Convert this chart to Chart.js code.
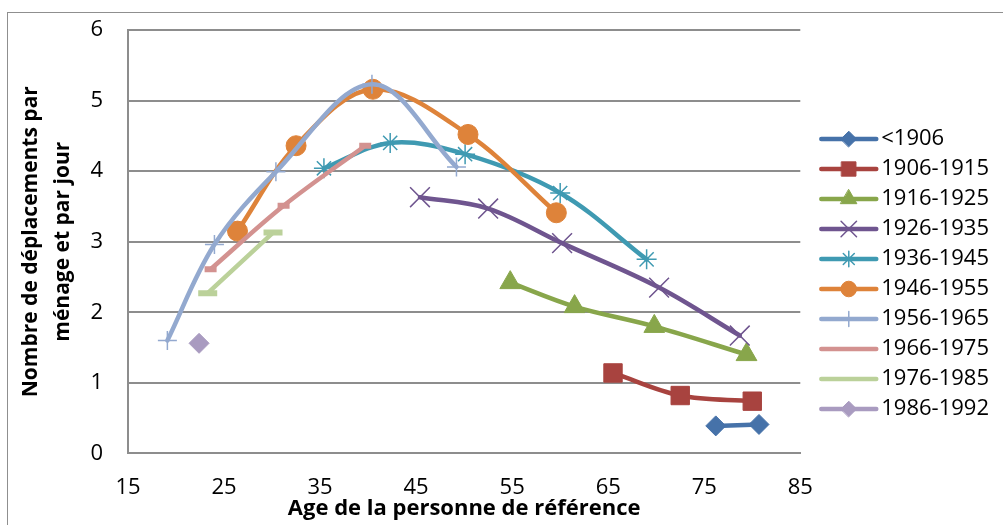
<!DOCTYPE html>
<html>
<head>
<meta charset="utf-8">
<script src="https://cdn.jsdelivr.net/npm/chart.js@4/dist/chart.umd.min.js"></script>
<style>
  html, body { margin: 0; padding: 0; background: #fff; }
</style>
</head>
<body>
<canvas id="tripsChart" width="1003" height="525"></canvas>
<script>
// cohorts (year of birth of the reference person)
const cohorts = ['<1906', '1906-1915', '1916-1925', '1926-1935', '1936-1945',
                 '1946-1955', '1956-1965', '1966-1975', '1976-1985', '1986-1992'];

// age of the reference person / trips per household and per day
const ageLt1906 = [76.2, 80.7];
const tripsLt1906 = [0.39, 0.41];
const age1906 = [65.5, 72.5, 80.0];
const trips1906 = [1.14, 0.82, 0.74];
const age1916 = [54.8, 61.5, 69.8, 79.4];
const trips1916 = [2.42, 2.08, 1.80, 1.40];
const age1926 = [45.4, 52.5, 60.2, 70.3, 78.7];
const trips1926 = [3.63, 3.47, 2.98, 2.35, 1.67];
const age1936 = [35.4, 42.3, 50.1, 60.0, 69.0];
const trips1936 = [4.04, 4.40, 4.24, 3.69, 2.75];
const age1946 = [26.4, 32.5, 40.5, 50.4, 59.6];
const trips1946 = [3.15, 4.36, 5.16, 4.52, 3.41];
const age1956 = [19.1, 24.0, 30.4, 40.4, 49.2];
const trips1956 = [1.60, 2.96, 3.99, 5.23, 4.06];
const age1966 = [23.6, 31.2, 39.7];
const trips1966 = [2.61, 3.51, 4.36];
const age1976 = [23.3, 30.1];
const trips1976 = [2.27, 3.13];
const age1986 = [22.4];
const trips1986 = [1.56];

const allAges = [ageLt1906, age1906, age1916, age1926, age1936, age1946, age1956, age1966, age1976, age1986];
const allTrips = [tripsLt1906, trips1906, trips1916, trips1926, trips1936, trips1946, trips1956, trips1966, trips1976, trips1986];

const xTickMin = 15, xTickMax = 85, xTickStep = 10;
const yTickMin = 0, yTickMax = 6, yTickStep = 1;

// look of each series
const colors = ['#4672A9', '#A8433F', '#88A64B', '#6F558F', '#3F9AB2',
                '#DE833A', '#93A9CF', '#D39290', '#BBD19A', '#A99BC0'];
const markers = [
  {style: 'rectRot', r: 10, bw: 1},
  {style: 'rect', r: 13, bw: 1},
  {style: 'triangle', r: 12, bw: 1},
  {style: 'crossRot', r: 14, bw: 1.5},
  {style: 'star', r: 10, bw: 1.5},
  {style: 'circle', r: 10, bw: 1},
  {style: 'cross', r: 9.5, bw: 1.5},
  {style: 'line', r: 6, bw: 6},
  {style: 'line', r: 9.5, bw: 6},
  {style: 'rectRot', r: 10, bw: 1}
];

const FONT = 'Open Sans';
const legendFont = 22;
const legendBox = 62;

Chart.defaults.font.family = FONT;
Chart.defaults.color = '#000';

const datasets = cohorts.map((name, i) => ({
  label: name,
  data: allAges[i].map((a, j) => ({x: a, y: allTrips[i][j]})),
  showLine: true,
  borderColor: colors[i],
  backgroundColor: colors[i],
  borderWidth: 4.5,
  borderCapStyle: 'round',
  borderJoinStyle: 'round',
  tension: 0.35,
  pointStyle: markers[i].style,
  pointRadius: markers[i].r,
  pointHoverRadius: markers[i].r,
  pointBorderWidth: markers[i].bw,
  pointBackgroundColor: colors[i],
  pointBorderColor: colors[i],
  order: -i
}));

// outer frame of the chart
const frame = {
  id: 'frame',
  beforeDraw(chart) {
    const ctx = chart.ctx;
    ctx.save();
    ctx.strokeStyle = '#8f8f8f';
    ctx.lineWidth = 1;
    ctx.strokeRect(7.5, 12.5, 1200, 700);
    ctx.restore();
  }
};

// legend: line + marker like the spreadsheet legend
const legendMarks = {
  id: 'legendMarks',
  afterDraw(chart) {
    const lg = chart.legend, ctx = chart.ctx;
    const drawPt = Chart.helpers && Chart.helpers.drawPoint;
    lg.legendItems.forEach((item, k) => {
      const hb = lg.legendHitBoxes[k];
      const i = item.datasetIndex;
      const cy = hb.top + hb.height / 2;
      const textX = hb.left + legendBox + legendFont / 2;
      const x0 = textX - 60, x1 = textX - 5;
      ctx.save();
      ctx.strokeStyle = colors[i];
      ctx.fillStyle = colors[i];
      ctx.lineWidth = 4.5;
      ctx.lineCap = 'round';
      ctx.beginPath();
      ctx.moveTo(x0, cy);
      ctx.lineTo(x1, cy);
      ctx.stroke();
      if (drawPt && markers[i].style !== 'line') {
        ctx.lineWidth = markers[i].bw;
        drawPt(ctx, {pointStyle: markers[i].style, radius: markers[i].r * 0.78,
                     rotation: 0, borderWidth: markers[i].bw}, (x0 + x1) / 2, cy);
      }
      ctx.restore();
    });
  }
};

new Chart(document.getElementById('tripsChart'), {
  type: 'scatter',
  data: {datasets: datasets},
  options: {
    responsive: false,
    animation: false,
    devicePixelRatio: 1,
    layout: {autoPadding: false, padding: {left: 0, top: 23, right: 4, bottom: 0}},
    plugins: {
      tooltip: {enabled: false},
      legend: {
        position: 'right',
        labels: {
          font: {size: legendFont},
          color: '#000',
          boxWidth: legendBox,
          boxHeight: 4,
          padding: 8,
          sort: (a, b) => a.datasetIndex - b.datasetIndex,
          generateLabels(chart) {
            const items = Chart.defaults.plugins.legend.labels.generateLabels(chart);
            items.forEach(it => {
              it.fillStyle = 'rgba(0,0,0,0)';
              it.strokeStyle = 'rgba(0,0,0,0)';
            });
            return items;
          }
        }
      }
    },
    scales: {
      x: {
        type: 'linear',
        min: xTickMin,
        max: xTickMax,
        ticks: {stepSize: xTickStep, padding: 21, font: {size: 22}, color: '#000'},
        grid: {display: false, drawTicks: false},
        border: {display: true, color: '#8d8d8d', width: 2},
        title: {
          display: true,
          text: 'Age de la personne de référence',
          font: {size: 22, weight: 'bold'},
          color: '#000',
          padding: {top: 0, bottom: 3}
        },
        afterFit(s) { s.height = 525 - 453.4; }
      },
      y: {
        min: yTickMin,
        max: yTickMax,
        ticks: {stepSize: yTickStep, padding: 25, font: {size: 22}, color: '#000'},
        grid: {color: '#8d8d8d', lineWidth: 2, drawTicks: false},
        border: {display: true, color: '#8d8d8d', width: 2},
        title: {
          display: true,
          text: ['Nombre de déplacements par', 'ménage et par jour'],
          font: {size: 21, weight: 'bold', lineHeight: 1.52},
          color: '#000',
          padding: {top: 15, bottom: 0}
        },
        afterFit(s) {
          s.width = 128;
          s.paddingTop = 30;
          s.paddingBottom = 0;
        }
      }
    }
  },
  plugins: [frame, legendMarks]
});
</script>
</body>
</html>
